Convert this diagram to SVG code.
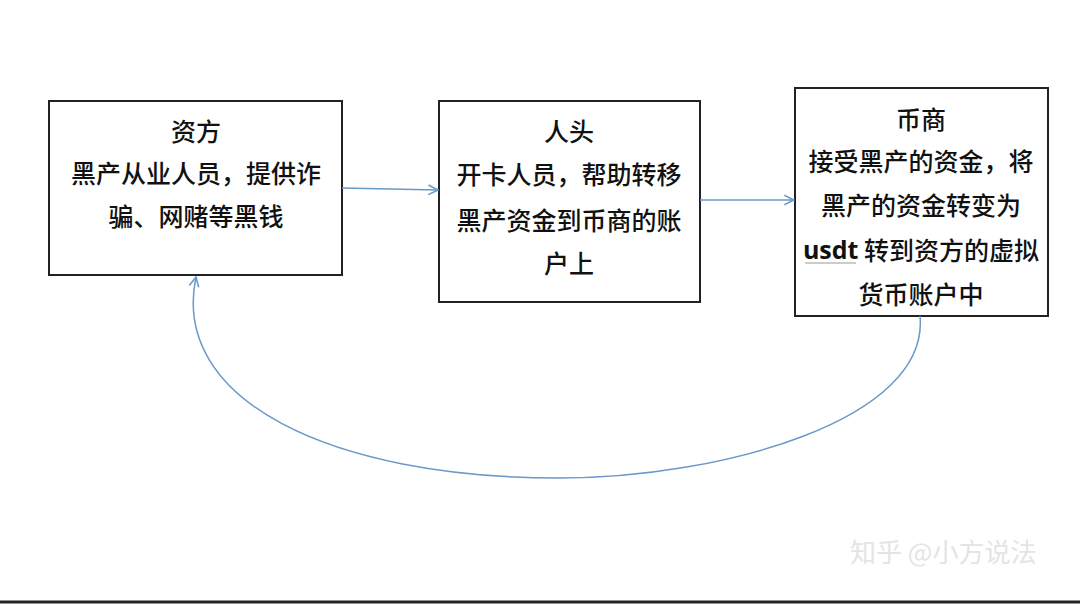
<svg xmlns="http://www.w3.org/2000/svg" width="1080" height="604" viewBox="0 0 1080 604">
<defs>
<style>
.box{fill:#fff;stroke:#222;stroke-width:2}
.t{font-family:"Noto Sans CJK SC","Noto Sans",sans-serif;font-size:25px;font-weight:500;fill:#111;text-anchor:middle;dominant-baseline:central}
.c{fill:none;stroke:#6a98c8;stroke-width:1.5}
</style>
<marker id="ah" viewBox="0 0 10 10" refX="9" refY="5" markerWidth="8" markerHeight="8" orient="auto"><path d="M1,1 L9,5 L1,9" fill="none" stroke="#6a98c8" stroke-width="1.3"/></marker>
</defs>
<rect width="1080" height="604" fill="#fff"/>
<g id="n1"><rect class="box" x="49" y="101" width="293" height="174"/>
<text class="t" x="196" y="130">资方</text>
<text class="t" x="196" y="172">黑产从业人员，提供诈</text>
<text class="t" x="196" y="215">骗、网赌等黑钱</text></g>
<g id="n2"><rect class="box" x="439" y="101" width="261" height="201"/>
<text class="t" x="569" y="130">人头</text>
<text class="t" x="569" y="173">开卡人员，帮助转移</text>
<text class="t" x="569" y="219">黑产资金到币商的账</text>
<text class="t" x="569" y="262">户上</text></g>
<g id="n3"><rect class="box" x="795" y="88" width="253" height="228"/>
<text class="t" x="921" y="118">币商</text>
<text class="t" x="921" y="160">接受黑产的资金，将</text>
<text class="t" x="921" y="204">黑产的资金转变为</text>
<text class="t" x="921" y="249"><tspan font-family="'Open Sans','Liberation Sans',sans-serif" font-weight="bold">usdt</tspan> 转到资方的虚拟</text>
<line x1="805" y1="263" x2="856" y2="263" stroke="#999" stroke-width="1.2"/>
<text class="t" x="921" y="293">货币账户中</text></g>
<g id="connectors">
<path class="c" d="M342,188 L438,190" marker-end="url(#ah)"/>
<path class="c" d="M700,200 L794,200" marker-end="url(#ah)"/>
<path class="c" d="M920,316 C930,420 720,478 560,478 C330,478 170,400 196,277" marker-end="url(#ah)"/>
</g>
<text x="850" y="562" font-family="'Noto Sans CJK SC',sans-serif" font-size="26" fill="#e4e4e4">知乎 @小方说法</text>
<line x1="0" y1="602" x2="1080" y2="602" stroke="#222" stroke-width="3"/>
</svg>
